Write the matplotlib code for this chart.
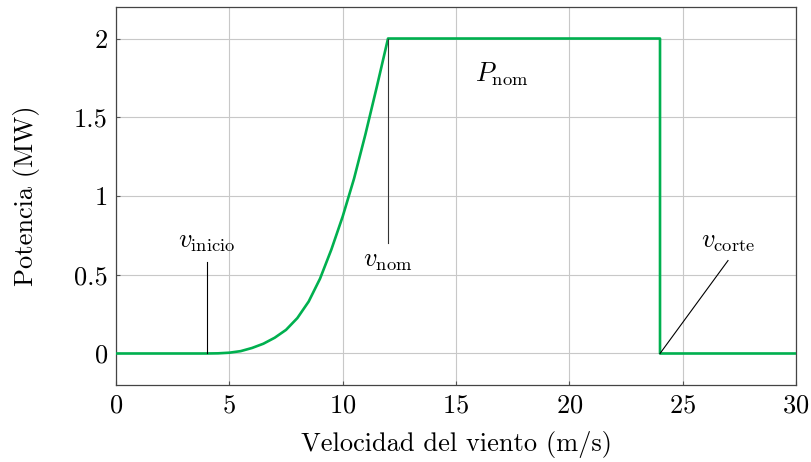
import numpy as np
import matplotlib
matplotlib.use("Agg")
import matplotlib.pyplot as plt

plt.rcParams['font.family'] = 'cmr10'
plt.rcParams['mathtext.fontset'] = 'cm'
plt.rcParams['axes.formatter.use_mathtext'] = True

# curva de potencia
v_curve = [0, 4, 4.5, 5, 5.5, 6, 6.5, 7, 7.5, 8, 8.5, 9, 9.5, 10, 10.5, 11, 11.5, 12]
p_curve = [0, 0, 0.001, 0.005, 0.015, 0.035, 0.062, 0.1, 0.15, 0.225, 0.33, 0.475, 0.66, 0.87, 1.11, 1.39, 1.69, 2.0]
v_rest = [12, 24, 24, 30]
p_rest = [2.0, 2.0, 0, 0]

xticks = [0, 5, 10, 15, 20, 25, 30]
yticks = [0, 0.5, 1, 1.5, 2]
ytick_labels = ['0', '0.5', '1', '1.5', '2']

green = '#00B04F'
fs = 19

fig = plt.figure(figsize=(8.12, 4.62), dpi=100)
ax = fig.add_axes([0.1429, 0.1667, 0.8374, 0.8181])

ax.plot(v_curve + v_rest[1:], p_curve + p_rest[1:], color=green, lw=1.9,
        zorder=3, solid_joinstyle='round')

ax.set_xlim(0, 30)
ax.set_ylim(-0.2, 2.2)
ax.set_xticks(xticks)
ax.set_yticks(yticks)
ax.set_yticklabels(ytick_labels)
ax.grid(True, color='#c8c8c8', lw=0.8)
ax.set_axisbelow(True)
ax.tick_params(direction='in', length=3, color='#555555', labelsize=fs, pad=6)
for s in ax.spines.values():
    s.set_color('#444444')
    s.set_linewidth(0.9)

ax.set_xlabel('Velocidad del viento (m/s)', fontsize=fs, labelpad=10)
ax.set_ylabel('Potencia (MW)', fontsize=fs, labelpad=24)

# anotaciones
ax.plot([4, 4], [0, 0.58], color='black', lw=0.8, zorder=4)
ax.text(4, 0.63, r'$v_{\mathrm{inicio}}$', fontsize=fs, ha='center', va='bottom')
ax.plot([12, 12], [2, 0.70], color='#333333', lw=0.8, zorder=4)
ax.text(12, 0.66, r'$v_{\mathrm{nom}}$', fontsize=fs, ha='center', va='top')
ax.plot([24, 27], [0, 0.59], color='black', lw=0.8, zorder=4)
ax.text(27, 0.63, r'$v_{\mathrm{corte}}$', fontsize=fs, ha='center', va='bottom')
ax.text(17, 1.77, r'$P_{\mathrm{nom}}$', fontsize=fs, ha='center', va='center')

fig.savefig('out.png', dpi=100)
